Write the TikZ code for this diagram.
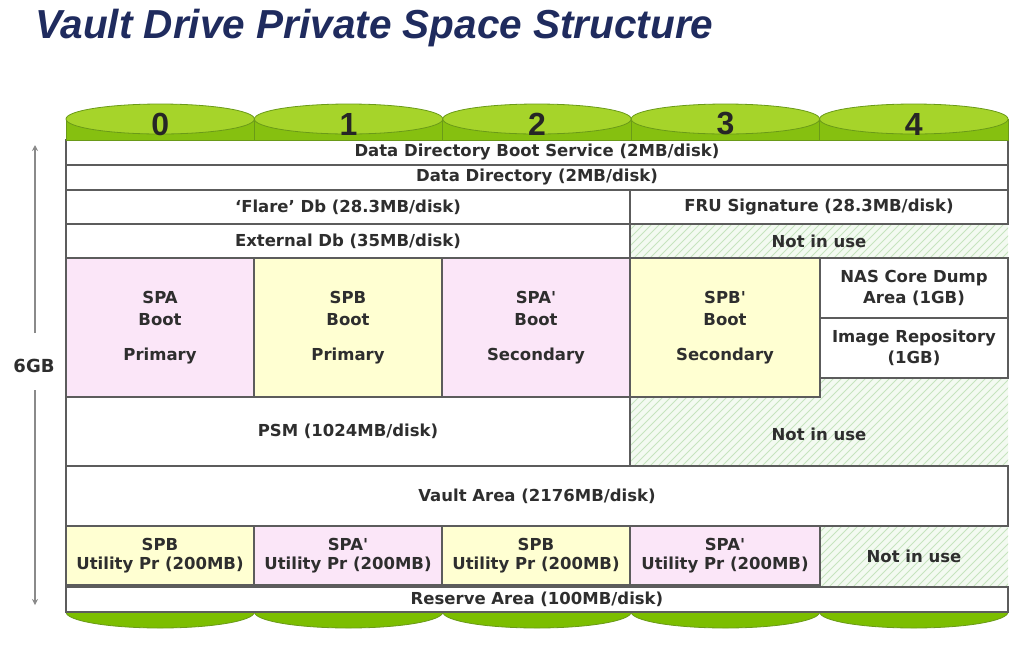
\documentclass[tikz,border=0pt]{standalone}
\usepackage{fontspec}
\newfontfamily\titlefont{Liberation Sans}
\newfontfamily\bodyfont{DejaVu Sans}
\newfontfamily\numfont{Liberation Sans}
\usetikzlibrary{arrows.meta}
\definecolor{titleblue}{HTML}{1F2B5E}
\definecolor{bordergray}{HTML}{5C5C5C}
\definecolor{txtgray}{HTML}{2E2E2E}
\definecolor{pinkfill}{HTML}{FBE6F8}
\definecolor{yellowfill}{HTML}{FFFFD2}
\definecolor{greentop}{HTML}{A6D42A}
\definecolor{greenside}{HTML}{86C010}
\definecolor{greenline}{HTML}{6A9A18}
\definecolor{greenbot}{HTML}{7CBE00}
\definecolor{hatchbg}{HTML}{F3FAF1}
\definecolor{hatchln}{HTML}{C6E4BE}
\definecolor{arrgray}{HTML}{8A8A8A}
\tikzset{
  cell/.style={draw=bordergray, line width=1.2pt, inner sep=0pt, outer sep=0pt,
    font=\bodyfont\bfseries\fontsize{16.5}{22}\selectfont, text=txtgray, align=center},
  lbl/.style={inner sep=0pt, font=\bodyfont\bfseries\fontsize{16.5}{22}\selectfont, text=txtgray, align=center},
  hatchline/.style={draw=hatchln, line width=1pt},
  topell/.style={fill=greentop, draw=greenline, line width=0.8pt},
  sideband/.style={fill=greenside, draw=greenline, line width=0.8pt},
  botell/.style={fill=greenbot, draw=greenline, line width=0.8pt},
  numlbl/.style={inner sep=0pt, font=\numfont\bfseries\fontsize{32}{34}\selectfont, text=black!85},
  gbarrow/.style={draw=arrgray, line width=1.8pt, -{Stealth[length=6pt,width=6pt]}}
}
\newcommand\mkcell[7]{%
  \node[cell,#6,minimum width={(#4-#2)*1pt},minimum height={(#5-#3)*1pt}] (#1) at ({(#2+#4)/2},{(#3+#5)/2}) {#7};}
\begin{document}
\begin{tikzpicture}[x={(1pt,0)},y={(0,-1pt)}]
\useasboundingbox[fill=white] (0,0) rectangle (1017,649);

% title
\node[anchor=base west, inner sep=0pt, font=\titlefont\bfseries\itshape\fontsize{40.5}{44}\selectfont, text=titleblue] (title) at (35,38) {Vault Drive Private Space Structure};

% bottom scallops
\foreach \i/\cx in {0/160.2,1/348.6,2/537,3/725.4,4/913.8}{
  \fill[botell] (\cx,612) ellipse [x radius=94.2pt, y radius=16pt];
}

% hatched regions
\begin{scope}
  \clip (630,224) rectangle (1008,258);
  \fill[hatchbg] (630,224) rectangle (1008,258);
  \foreach \k in {200,208,...,1010} \draw[hatchline] (\k,300) -- (\k+300,0);
\end{scope}
\begin{scope}
  \clip (820,378) -- (1008,378) -- (1008,466) -- (630,466) -- (630,397) -- (820,397) -- cycle;
  \fill[hatchbg] (500,370) rectangle (1010,470);
  \foreach \k in {400,408,...,1010} \draw[hatchline] (\k,500) -- (\k+200,300);
\end{scope}
\begin{scope}
  \clip (820,526) rectangle (1008,588);
  \fill[hatchbg] (820,526) rectangle (1008,588);
  \foreach \k in {700,708,...,1010} \draw[hatchline] (\k,620) -- (\k+120,500);
\end{scope}

% cells
\mkcell{r1}{66}{140}{1008}{165}{fill=white}{Data Directory Boot Service (2MB/disk)}
\mkcell{r2}{66}{165}{1008}{190}{fill=white}{Data Directory (2MB/disk)}
\mkcell{flare}{66}{190}{630}{224}{fill=white}{‘Flare’ Db (28.3MB/disk)}
\mkcell{fru}{630}{190}{1008}{224}{fill=white}{FRU Signature (28.3MB/disk)}
\mkcell{ext}{66}{224}{630}{258}{fill=white}{External Db (35MB/disk)}
\mkcell{boot0}{66}{258}{254}{397}{fill=pinkfill}{SPA\\Boot\\[13pt]Primary}
\mkcell{boot1}{254}{258}{442}{397}{fill=yellowfill}{SPB\\Boot\\[13pt]Primary}
\mkcell{boot2}{442}{258}{630}{397}{fill=pinkfill}{SPA'\\Boot\\[13pt]Secondary}
\mkcell{boot3}{630}{258}{820}{397}{fill=yellowfill}{SPB'\\Boot\\[13pt]Secondary}
\mkcell{nas}{820}{258}{1008}{318}{fill=white}{NAS Core Dump\\[-1pt]Area (1GB)}
\mkcell{img}{820}{318}{1008}{378}{fill=white}{Image Repository\\[-1pt](1GB)}
\mkcell{psm}{66}{397}{630}{466}{fill=white}{PSM (1024MB/disk)}
\mkcell{vault}{66}{466}{1008}{526}{fill=white}{Vault Area (2176MB/disk)}
\mkcell{u0}{66}{526}{254}{585}{fill=yellowfill}{SPB\\[-3pt]Utility Pr (200MB)}
\mkcell{u1}{254}{526}{442}{585}{fill=pinkfill}{SPA'\\[-3pt]Utility Pr (200MB)}
\mkcell{u2}{442}{526}{630}{585}{fill=yellowfill}{SPB\\[-3pt]Utility Pr (200MB)}
\mkcell{u3}{630}{526}{820}{585}{fill=pinkfill}{SPA'\\[-3pt]Utility Pr (200MB)}
\mkcell{reserve}{66}{587}{1008}{612}{fill=white}{Reserve Area (100MB/disk)}

% hatch labels
\node[lbl] (nu1) at (819,241) {Not in use};
\node[lbl] (nu2) at (819,434) {Not in use};
\node[lbl] (nu3) at (914,556) {Not in use};

% top cylinders
\foreach \i/\cx/\xa/\xb in {0/160.2/66/254.4,1/348.6/254.4/442.8,2/537/442.8/631.2,3/725.4/631.2/819.6,4/913.8/819.6/1008}{
  \filldraw[sideband] (\xa,119) rectangle (\xb,140);
  \filldraw[topell] (\cx,119) ellipse [x radius=94.2pt, y radius=15pt];
  \node[numlbl] (n\i) at (\cx,124) {\i};
}

% 6GB arrow
\node[inner sep=0pt, font=\bodyfont\bfseries\fontsize{18}{20}\selectfont, text=txtgray] (gb) at (34,366) {6GB};
\coordinate (gtop) at (35,145);
\coordinate (gbot) at (35,605);
\draw[gbarrow, shorten <=26pt] (gb.north -| gtop) -- (gtop);
\draw[gbarrow, shorten <=17pt] (gb.south -| gbot) -- (gbot);
\end{tikzpicture}
\end{document}
